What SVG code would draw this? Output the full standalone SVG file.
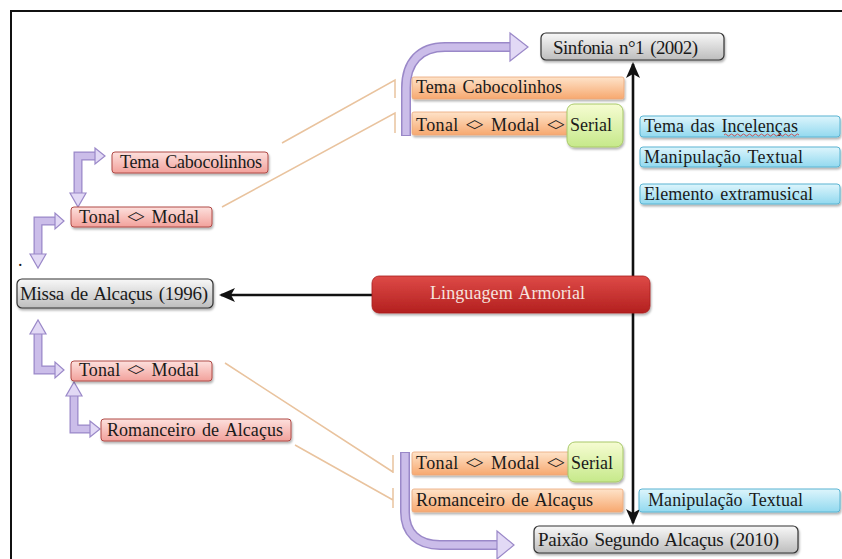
<svg xmlns="http://www.w3.org/2000/svg" width="842" height="559" viewBox="0 0 842 559">
<style>
text{font-family:"Liberation Serif","Times New Roman",serif;font-size:18px;fill:#1a1a1a;word-spacing:2px}
.big{font-size:19px}
.wt{fill:#f6e2de}
.lz{letter-spacing:-2.5px}
.grey{fill:url(#gGrey);stroke:#333;stroke-width:1.2;filter:url(#sh)}
.pink{fill:url(#gPink);stroke:#b04a46;stroke-width:1;filter:url(#sh)}
.orange{fill:url(#gOrange);stroke:#eaa77a;stroke-width:0.8;filter:url(#sh)}
.green{fill:url(#gGreen);stroke:#a8c868;stroke-width:1;filter:url(#sh)}
.blue{fill:url(#gBlue);stroke:#5ab4d2;stroke-width:1;filter:url(#sh)}
.red{fill:url(#gRed);stroke:#a82020;stroke-width:0.8;filter:url(#sh)}
.tan{fill:none;stroke:#e9c39e;stroke-width:1.5}
.blk{fill:none;stroke:#111;stroke-width:2.6}
.pOut{fill:none;stroke:#9a88c8;stroke-linejoin:miter}
.pIn{fill:none;stroke:#cbbde9;stroke-linejoin:miter}
.pHead{fill:#e2d9f5;stroke:#9a88c8;stroke-width:1.2;stroke-linejoin:miter}
</style>
<defs>
<linearGradient id="gGrey" x1="0" y1="0" x2="0" y2="1"><stop offset="0" stop-color="#f8f8f8"/><stop offset="1" stop-color="#bdbdbd"/></linearGradient>
<linearGradient id="gPink" x1="0" y1="0" x2="0" y2="1"><stop offset="0" stop-color="#fde0dd"/><stop offset="1" stop-color="#f2a19b"/></linearGradient>
<linearGradient id="gOrange" x1="0" y1="0" x2="0" y2="1"><stop offset="0" stop-color="#fee3c9"/><stop offset="1" stop-color="#f7a86f"/></linearGradient>
<linearGradient id="gGreen" x1="0" y1="0" x2="0" y2="1"><stop offset="0" stop-color="#f6fcd2"/><stop offset="1" stop-color="#c6e98a"/></linearGradient>
<linearGradient id="gBlue" x1="0" y1="0" x2="0" y2="1"><stop offset="0" stop-color="#ddf5fc"/><stop offset="1" stop-color="#92d9ef"/></linearGradient>
<linearGradient id="gRed" x1="0" y1="0" x2="0" y2="1"><stop offset="0" stop-color="#de4a47"/><stop offset="1" stop-color="#b3201f"/></linearGradient>
<filter id="sh" x="-10%" y="-30%" width="120%" height="170%"><feDropShadow dx="1" dy="2" stdDeviation="1.2" flood-color="#000" flood-opacity="0.3"/></filter>
<marker id="ah" viewBox="0 0 16 14" refX="14" refY="7" markerWidth="16" markerHeight="14" markerUnits="userSpaceOnUse" orient="auto-start-reverse"><path d="M0,0 L16,7 L0,14 L4,7 z" fill="#111"/></marker>
</defs>

<path d="M11,559 V11 H842" fill="none" stroke="#111" stroke-width="2"/>
<text x="18" y="266">.</text>

<g id="connectors">
  <line class="blk" x1="633" y1="64" x2="633" y2="523" marker-start="url(#ah)" marker-end="url(#ah)"/>
  <line class="blk" x1="372" y1="295" x2="221" y2="295" marker-end="url(#ah)"/>
  <path class="tan" d="M282,143 L395,80 V98"/>
  <path class="tan" d="M222,207 L395,113 V133"/>
  <path class="tan" d="M225,363 L393,472 M393,455 V473"/>
  <path class="tan" d="M295,445 L393,500 M393,488 V508"/>
  <path class="pOut" stroke-width="10" d="M406,136 V88 C406,62 420,47 445,47 H511"/>
  <path class="pIn" stroke-width="7" d="M406,135 V88 C406,62 420,47 445,47 H512"/>
  <polygon class="pHead" points="510,33 528,47 510,61"/>
  <path class="pOut" stroke-width="10" d="M405,452 V512 C405,533 418,545 440,545 H498"/>
  <path class="pIn" stroke-width="7" d="M405,453 V512 C405,533 418,545 440,545 H499"/>
  <polygon class="pHead" points="497,531 514,545 497,559"/>
  <path class="pOut" stroke-width="9" d="M78,193 V156 H96"/>
  <path class="pIn" stroke-width="6.5" d="M78,194 V156 H97"/>
  <polygon class="pHead" points="70,193 86,193 78,207"/>
  <polygon class="pHead" points="95,148 95,164 105,156"/>
  <path class="pOut" stroke-width="9" d="M38,254 V221 H56"/>
  <path class="pIn" stroke-width="6.5" d="M38,255 V221 H57"/>
  <polygon class="pHead" points="30,254 46,254 38,268"/>
  <polygon class="pHead" points="55,213 55,229 64,221"/>
  <path class="pOut" stroke-width="9" d="M38,334 V370 H56"/>
  <path class="pIn" stroke-width="6.5" d="M38,333 V370 H57"/>
  <polygon class="pHead" points="30,334 46,334 38,320"/>
  <polygon class="pHead" points="55,362 55,378 64,370"/>
  <path class="pOut" stroke-width="9" d="M74,396 V429 H91"/>
  <path class="pIn" stroke-width="6.5" d="M74,395 V429 H92"/>
  <polygon class="pHead" points="66,396 82,396 74,382"/>
  <polygon class="pHead" points="90,421 90,437 100,429"/>
</g>

<g id="sinfonia"><rect class="grey" x="541" y="33" width="183" height="27" rx="5"/><text class="big" x="553" y="54" textLength="145" lengthAdjust="spacing">Sinfonia n°1 (2002)</text></g>
<g id="tema-cabocolinhos-s"><rect class="orange" x="412" y="77" width="212" height="22" rx="2"/><text x="416" y="93" textLength="146" lengthAdjust="spacing">Tema Cabocolinhos</text></g>
<g id="tonal-modal-serial-s"><rect class="orange" x="412" y="112" width="180" height="23" rx="2"/><text x="416" y="131" textLength="149" lengthAdjust="spacing">Tonal <tspan class="lz">&lt;</tspan>&gt; Modal <tspan class="lz">&lt;</tspan>&gt;</text></g>
<g id="serial-s"><rect class="green" x="567" y="104" width="56" height="43" rx="7"/><text x="570" y="131" textLength="42" lengthAdjust="spacing">Serial</text></g>
<g id="tema-incelencas"><rect class="blue" x="640" y="116" width="200" height="21" rx="3"/><text x="644" y="132" textLength="154" lengthAdjust="spacing">Tema das Incelenças</text><path d="M724,135 q1.5,-2 3,0 t3,0 t3,0 t3,0 t3,0 t3,0 t3,0 t3,0 t3,0 t3,0 t3,0 t3,0 t3,0 t3,0 t3,0 t3,0 t3,0 t3,0 t3,0 t3,0 t3,0 t3,0 t3,0 t3,0 t3,0" fill="none" stroke="#d03030" stroke-width="0.8"/></g>
<g id="manipulacao-s"><rect class="blue" x="640" y="147" width="200" height="20" rx="3"/><text x="644" y="163" textLength="159" lengthAdjust="spacing">Manipulação  Textual</text></g>
<g id="elemento"><rect class="blue" x="640" y="184" width="200" height="20" rx="3"/><text x="644" y="200" textLength="169" lengthAdjust="spacing">Elemento extramusical</text></g>
<g id="tema-cabocolinhos-m"><rect class="pink" x="112" y="152" width="156" height="21" rx="3"/><text x="120" y="168" textLength="142" lengthAdjust="spacing">Tema Cabocolinhos</text></g>
<g id="tonal-modal-m1"><rect class="pink" x="71" y="207" width="141" height="20" rx="3"/><text x="79" y="223" textLength="120" lengthAdjust="spacing">Tonal <tspan class="lz">&lt;</tspan>&gt; Modal</text></g>
<g id="missa"><rect class="grey" x="17" y="279" width="196" height="29" rx="5"/><text class="big" x="20" y="300" textLength="188" lengthAdjust="spacing">Missa de Alcaçus (1996)</text></g>
<g id="linguagem"><rect class="red" x="372" y="276" width="278" height="37" rx="7"/><text class="wt" x="430" y="299" textLength="155" lengthAdjust="spacing">Linguagem Armorial</text></g>
<g id="tonal-modal-m2"><rect class="pink" x="71" y="361" width="141" height="20" rx="3"/><text x="79" y="376" textLength="120" lengthAdjust="spacing">Tonal <tspan class="lz">&lt;</tspan>&gt; Modal</text></g>
<g id="romanceiro-m"><rect class="pink" x="101" y="419" width="190" height="22" rx="3"/><text x="107" y="436" textLength="176" lengthAdjust="spacing">Romanceiro de Alcaçus</text></g>
<g id="tonal-modal-serial-p"><rect class="orange" x="412" y="452" width="180" height="23" rx="2"/><text x="416" y="469" textLength="149" lengthAdjust="spacing">Tonal <tspan class="lz">&lt;</tspan>&gt; Modal <tspan class="lz">&lt;</tspan>&gt;</text></g>
<g id="serial-p"><rect class="green" x="568" y="442" width="55" height="40" rx="7"/><text x="571" y="469" textLength="42" lengthAdjust="spacing">Serial</text></g>
<g id="romanceiro-p"><rect class="orange" x="412" y="489" width="211" height="23" rx="2"/><text x="416" y="506" textLength="177" lengthAdjust="spacing">Romanceiro de Alcaçus</text></g>
<g id="manipulacao-p"><rect class="blue" x="639" y="489" width="201" height="23" rx="3"/><text x="648" y="506" textLength="155" lengthAdjust="spacing">Manipulação Textual</text></g>
<g id="paixao"><rect class="grey" x="534" y="526" width="264" height="27" rx="5"/><text class="big" x="538" y="546" textLength="241" lengthAdjust="spacing">Paixão Segundo Alcaçus (2010)</text></g>
</svg>
